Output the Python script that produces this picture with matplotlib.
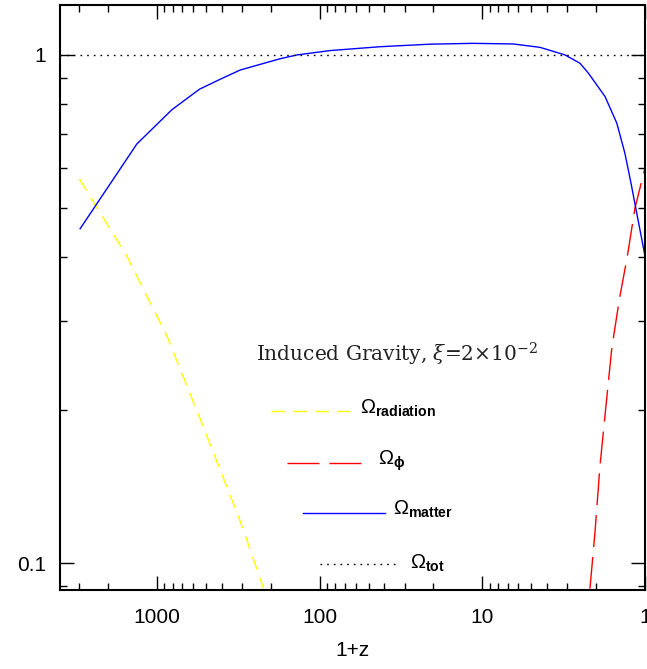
import numpy as np
import matplotlib
matplotlib.use("Agg")
import matplotlib.pyplot as plt
from matplotlib.ticker import LogLocator, NullFormatter, FixedLocator, FixedFormatter

plt.rcParams['font.family'] = ['Liberation Sans', 'DejaVu Sans']
plt.rcParams['mathtext.fontset'] = 'custom'
plt.rcParams['mathtext.rm'] = 'Liberation Sans'
plt.rcParams['mathtext.it'] = 'Liberation Sans:italic'
plt.rcParams['mathtext.bf'] = 'Liberation Sans:bold'

# values (x = 1+z)
matter_x = [2970, 1331, 811, 549, 405, 308, 175, 138, 86.3, 42.5, 21.0, 11.4, 6.45, 4.42,
            3.10, 2.51, 2.23, 1.76, 1.49, 1.33, 1.22, 1.125, 1.0]
matter_y = [0.455, 0.668, 0.780, 0.856, 0.897, 0.934, 0.983, 1.0, 1.020, 1.038, 1.050, 1.054,
            1.051, 1.035, 1.0, 0.963, 0.921, 0.828, 0.734, 0.641, 0.560, 0.489, 0.402]

radiation_x = [3000, 1534, 871, 543, 381, 301, 222]
radiation_y = [0.570, 0.402, 0.280, 0.192, 0.144, 0.1185, 0.0893]

phi_x = [2.18, 2.03, 1.891, 1.762, 1.602, 1.439, 1.285, 1.152, 1.0]
phi_y = [0.089, 0.115, 0.1554, 0.195, 0.264, 0.330, 0.401, 0.500, 0.599]

tot_x = [3950, 1.0]
tot_y = [1.0, 1.0]

xticks = [1000, 100, 10, 1]
xtick_labels = ['1000', '100', '10', '1']
yticks = [0.1, 1]
ytick_labels = ['0.1', '1']

title = r'Induced Gravity, $\xi$=2$\times$10$^{-2}$'
labels = [r'$\Omega_{\mathbf{radiation}}$', r'$\Omega_{\mathbf{\phi}}$',
          r'$\Omega_{\mathbf{matter}}$', r'$\Omega_{\mathbf{tot}}$']

yellow_ls = (0, (9.7, 6.1))
red_ls = (0, (23, 7.2))
dot_ls = (0, (1.2, 3.6))

fig = plt.figure(figsize=(6.47, 6.69), dpi=100)
ax = fig.add_axes([60/647, 1 - 590/669, 585/647, 585/669])

ax.plot(radiation_x, radiation_y, color='#ffff00', lw=1.0, ls=yellow_ls)
ax.plot(phi_x, phi_y, color='#ff0000', lw=1.0, ls=red_ls)
ax.plot(matter_x, matter_y, color='#0000ff', lw=1.0)
ax.plot(tot_x, tot_y, color='black', lw=1.0, ls=dot_ls)

ax.set_xscale('log')
ax.set_yscale('log')
ax.set_xlim(3950, 1)
ax.set_ylim(0.0885, 1.254)

ax.xaxis.set_major_locator(FixedLocator(xticks))
ax.xaxis.set_major_formatter(FixedFormatter(xtick_labels))
ax.yaxis.set_major_locator(FixedLocator(yticks))
ax.yaxis.set_major_formatter(FixedFormatter(ytick_labels))
ax.xaxis.set_minor_locator(LogLocator(base=10, subs=np.arange(2, 10), numticks=20))
ax.yaxis.set_minor_locator(LogLocator(base=10, subs=np.arange(2, 10), numticks=20))
ax.xaxis.set_minor_formatter(NullFormatter())
ax.yaxis.set_minor_formatter(NullFormatter())

ax.tick_params(which='both', direction='in', top=True, right=True, width=1.0)
ax.tick_params(which='major', length=10)
ax.tick_params(which='minor', length=5)
ax.tick_params(axis='x', which='major', labelsize=15, pad=13)
ax.tick_params(axis='y', which='major', labelsize=15, pad=10)
for s in ax.spines.values():
    s.set_linewidth(1.5)

ax.set_xlabel('1+z', fontsize=15, labelpad=10)

# key drawn inside the axes
ax.text(0.335, 0.390, title, transform=ax.transAxes, fontsize=14.5,
        family='DejaVu Serif', math_fontfamily='dejavuserif',
        va='baseline', ha='left', color='#222222')

key_x0 = [0.360, 0.3885, 0.416, 0.4444]
key_x1 = [0.497, 0.5157, 0.5556, 0.5812]
key_y = [0.306, 0.2176, 0.1321, 0.0439]
key_lx = [0.513, 0.544, 0.570, 0.598]
key_ly = [0.302, 0.2137, 0.128, 0.0371]
key_col = ['#ffff00', '#ff0000', '#0000ff', 'black']
key_ls = [yellow_ls, red_ls, '-', dot_ls]
for i in range(4):
    ax.plot([key_x0[i], key_x1[i]], [key_y[i], key_y[i]], transform=ax.transAxes,
            color=key_col[i], lw=1.0, ls=key_ls[i])
    ax.text(key_lx[i], key_ly[i], labels[i], transform=ax.transAxes, fontsize=14.5,
            va='baseline', ha='left')

fig.savefig('out.png', dpi=100)
